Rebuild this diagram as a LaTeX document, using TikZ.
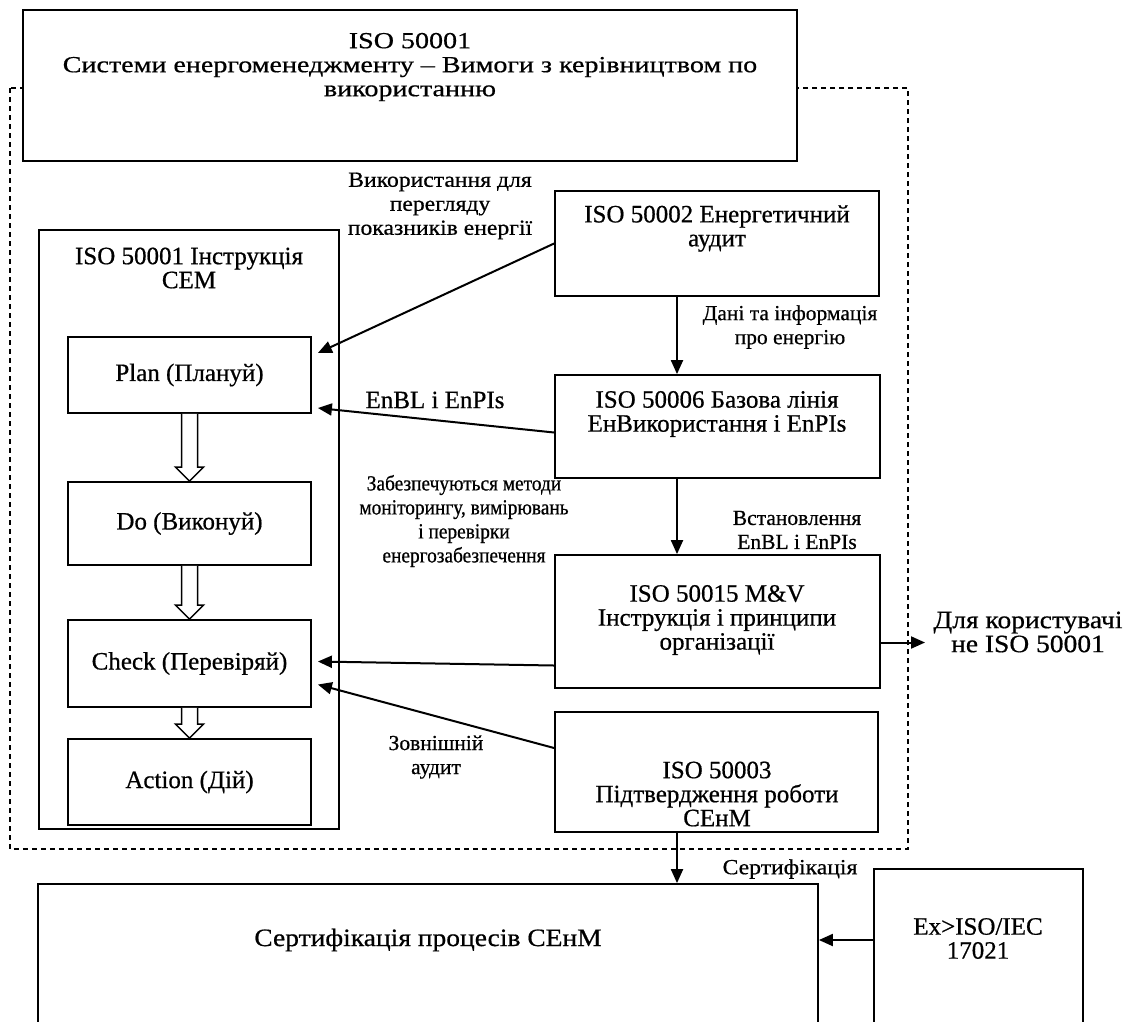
\documentclass[tikz,border=0pt]{standalone}
\usepackage{fontspec}
\setmainfont{Liberation Serif}[FakeBold=0.6]
\newfontfamily\topfont{Liberation Serif}[FakeStretch=1.22,FakeBold=0.6]
\newfontfamily\narrowfont{Liberation Serif}[FakeStretch=0.9,FakeBold=0.6]
\newfontfamily\widefont{Liberation Serif}[FakeStretch=1.1,FakeBold=0.6]
\usetikzlibrary{arrows.meta,calc}
\newcommand\hollowarrow[2]{\draw[hol] ($(#1.south)+(-8,0)$) -- ($(#2.north)+(-8,14)$) -- ($(#2.north)+(-14,14)$) -- (#2.north) -- ($(#2.north)+(14,14)$) -- ($(#2.north)+(8,14)$) -- ($(#1.south)+(8,0)$);}
\begin{document}
\begin{tikzpicture}[x=1pt,y=1pt,
 box/.style={draw, line width=1.8pt, fill=white, inner sep=0pt},
 txt/.style={align=center, font=\fontsize{25}{24}\selectfont, inner sep=0pt},
 lbl/.style={align=center, font=\fontsize{21.5}{24}\selectfont, inner sep=0pt},
 conn/.style={line width=2pt, -{Triangle[length=14pt,width=12pt]}},
 hol/.style={draw, line width=1.5pt, fill=white, line join=miter}]
\useasboundingbox (0,0) rectangle (1123,-1021);
\clip (0,0) rectangle (1123,-1021);
% dashed frame
\draw[line width=1.3pt, dash pattern=on 5pt off 4pt] (10,-88) rectangle (908,-849);
% top box
\node[box, minimum width=774, minimum height=151] (top) at (410,-85.5) {};
\node[txt, font=\topfont\fontsize{23}{24}\selectfont] (toptxt) at (410,-67) {ISO 50001\\Системи енергоменеджменту – Вимоги з керівництвом по\\використанню};
% left instruction box
\node[box, minimum width=300, minimum height=599] (instr) at (189,-529.5) {};
\node[txt] (instrtxt) at (189,-268) {ISO 50001 Інструкція\\СЕМ};
\node[box, minimum width=243, minimum height=76] (plan) at (189.5,-375) {};
\node[txt] at (plan) {Plan (Плануй)};
\node[box, minimum width=243, minimum height=83] (do) at (189.5,-523.5) {};
\node[txt] at (do) {Do (Виконуй)};
\node[box, minimum width=243, minimum height=87] (check) at (189.5,-663.5) {};
\node[txt] at (check) {Check (Перевіряй)};
\node[box, minimum width=243, minimum height=86] (action) at (189.5,-782) {};
\node[txt] at (action) {Action (Дій)};
\hollowarrow{plan}{do}
\hollowarrow{do}{check}
\hollowarrow{check}{action}
% right column
\node[box, minimum width=324, minimum height=105] (a2) at (717,-243.5) {};
\node[txt] at (717,-228.5) {ISO 50002 Енергетичний\\аудит};
\node[box, minimum width=325, minimum height=103] (a6) at (717.5,-426.5) {};
\node[txt] at (717,-414) {ISO 50006 Базова лінія\\ЕнВикористання і EnPIs};
\node[box, minimum width=325, minimum height=133] (a15) at (717.5,-621.5) {};
\node[txt] at (717,-620) {ISO 50015 M\&V\\Інструкція і принципи\\організації};
\node[box, minimum width=323, minimum height=120] (a3) at (716.5,-772) {};
\node[txt] at (717,-794) {ISO 50003\\Підтвердження роботи\\СЕнМ};
% bottom
\node[box, minimum width=780, minimum height=146] (cert) at (428,-957) {};
\node[txt, font=\widefont\fontsize{25}{24}\selectfont] at (428,-940) {Сертифікація процесів СЕнМ};
\node[box, minimum width=209, minimum height=161] (ex) at (978.5,-949.5) {};
\node[txt] at (978,-938.5) {Ex>ISO/IEC\\17021};
% connectors
\coordinate (vx) at (677,0);
\coordinate (hy) at (0,-940);
\coordinate (out) at (925,-642.5);
\draw[conn] (a2.south -| vx) -- (a6.north -| vx);
\draw[conn] (a6.south -| vx) -- (a15.north -| vx);
\draw[conn] (a3.south -| vx) -- (cert.north -| vx);
\draw[conn] (a2.west) -- ($(plan.east)+(6,22)$);
\draw[conn] ($(a6.west)+(0,-6)$) -- ($(plan.east)+(6,-33)$);
\draw[conn] ($(a15.west)+(0,-44)$) -- ($(check.east)+(6,2)$);
\draw[conn] ($(a3.west)+(0,24)$) -- ($(check.east)+(6,-21)$);
\draw[conn] ($(a15.east)+(0,-21)$) -- (out);
\draw[conn] (ex.west |- hy) -- (cert.east |- hy);
% labels
\node[lbl, font=\widefont\fontsize{21.5}{24}\selectfont] at (440,-206) {Використання для\\перегляду\\показників енергії};
\node[lbl] at (790,-327) {Дані та інформація\\про енергію};
\node[txt] at (435,-400) {EnBL і EnPIs};
\node[lbl, font=\narrowfont\fontsize{21.5}{24}\selectfont] at (464,-521) {Забезпечуються методи\\моніторингу, вимірювань\\і перевірки\\енергозабезпечення};
\node[lbl] at (797,-530) {Встановлення\\EnBL і EnPIs};
\node[lbl] at (436,-757) {Зовнішній\\аудит};
\node[txt, font=\widefont\fontsize{25}{24}\selectfont] at (1028,-632) {Для користувачі\\не ISO 50001};
\node[lbl, font=\widefont\fontsize{21.5}{24}\selectfont] at (790,-869) {Сертифікація};
\end{tikzpicture}
\end{document}
